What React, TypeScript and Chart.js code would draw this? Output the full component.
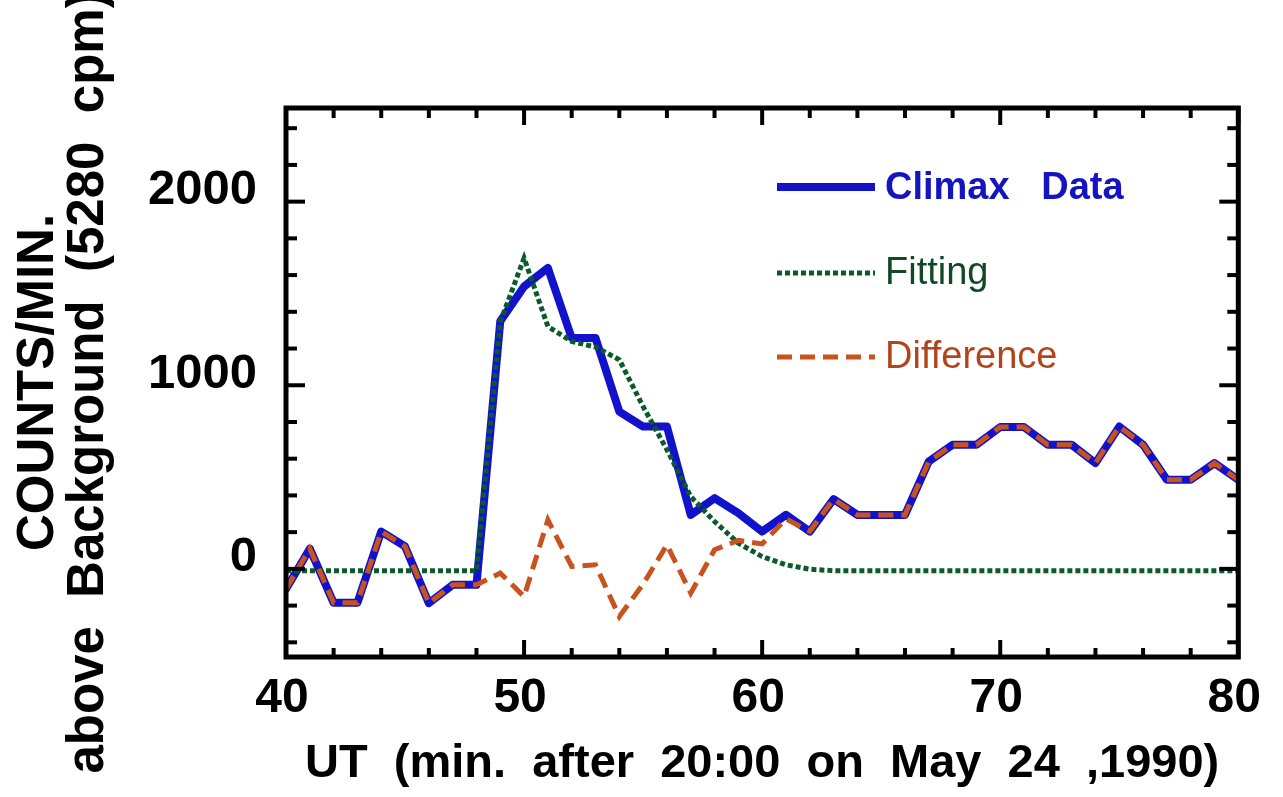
import React, { useEffect, useRef } from "react";
import { Chart, registerables } from "chart.js";

Chart.register(...registerables);

// ---- data ----
const minutes = [40, 41, 42, 43, 44, 45, 46, 47, 48, 49, 50, 51, 52, 53, 54, 55, 56, 57, 58, 59, 60,
  61, 62, 63, 64, 65, 66, 67, 68, 69, 70, 71, 72, 73, 74, 75, 76, 77, 78, 79, 80];

const climaxData = [-110, 110, -185, -185, 203, 122, -187, -87, -87, 1348, 1538, 1639, 1257, 1257, 857,
  775, 775, 294, 385, 304, 203, 294, 203, 380, 294, 294, 294, 585, 676, 676, 772, 772, 676, 676, 576,
  775, 676, 485, 485, 576, 485];

const fittingData = [-10, -10, -10, -10, -10, -10, -10, -10, -10, 1345, 1693, 1320, 1239, 1208, 1139,
  884, 649, 394, 258, 140, 67, 22, -2, -10, -10, -10, -10, -10, -10, -10, -10, -10, -10, -10, -10,
  -10, -10, -10, -10, -10, -10];

const differenceData = [-110, 110, -185, -185, 203, 122, -187, -87, -87, -23, -151, 267, 13, 22, -260,
  -83, 131, -132, 104, 155, 136, 272, 205, 380, 294, 294, 294, 585, 676, 676, 772, 772, 676, 676, 576,
  775, 676, 485, 485, 576, 485];

const seriesLabels = ["Climax   Data", "Fitting", "Difference"];

const xLabelTicks = [40, 50, 60, 70, 80];
const xMinorTicks = [42, 44, 46, 48, 52, 54, 56, 58, 62, 64, 66, 68, 72, 74, 76, 78];
const yLabelTicks = [0, 1000, 2000];
const yMinorTicks = [-400, -200, 200, 400, 600, 800, 1200, 1400, 1600, 1800, 2200, 2400];

const xTitle = "UT  (min.  after  20:00  on  May  24  ,1990)";
const yTitle = ["COUNTS/MIN.", "above  Background  (5280  cpm)"];

const FONT = '"Liberation Sans", Arial, Helvetica, sans-serif';

const framePlugin = {
  id: "frameTicks",
  afterDatasetsDraw(chart: any) {
    const { ctx, chartArea } = chart;
    const xs = chart.scales.x;
    const ys = chart.scales.y;
    const { left, right, top, bottom } = chartArea;
    ctx.save();
    ctx.strokeStyle = "#000";
    ctx.lineCap = "butt";
    ctx.lineWidth = 4;
    const seg = (x1: number, y1: number, x2: number, y2: number) => {
      ctx.beginPath();
      ctx.moveTo(x1, y1);
      ctx.lineTo(x2, y2);
      ctx.stroke();
    };
    yLabelTicks.forEach((v) => {
      const p = ys.getPixelForValue(v);
      seg(left, p, left + 19, p);
      seg(right, p, right - 19, p);
    });
    yMinorTicks.forEach((v) => {
      const p = ys.getPixelForValue(v);
      seg(left, p, left + 11, p);
      seg(right, p, right - 11, p);
    });
    xLabelTicks.forEach((v) => {
      const p = xs.getPixelForValue(v);
      seg(p, bottom, p, bottom - 17);
      seg(p, top, p, top + 17);
    });
    xMinorTicks.forEach((v) => {
      const p = xs.getPixelForValue(v);
      seg(p, bottom, p, bottom - 9);
      seg(p, top, p, top + 10);
    });
    ctx.lineWidth = 5;
    ctx.lineJoin = "miter";
    ctx.strokeRect(left, top, right - left, bottom - top);
    ctx.restore();
  },
};

const legendPlugin = {
  id: "insetLegend",
  afterDraw(chart: any) {
    const { ctx } = chart;
    const rows = [
      { y: 187, textY: 189, weight: "bold", color: "#1414c0" },
      { y: 273, textY: 274, weight: "normal", color: "#0f4a24" },
      { y: 357, textY: 358, weight: "normal", color: "#b3431a" },
    ];
    ctx.save();
    chart.data.datasets.forEach((ds: any, i: number) => {
      const r = rows[i];
      ctx.strokeStyle = ds.borderColor;
      ctx.lineWidth = ds.borderWidth;
      ctx.setLineDash(ds.borderDash || []);
      ctx.beginPath();
      ctx.moveTo(777, r.y);
      ctx.lineTo(875, r.y);
      ctx.stroke();
      ctx.setLineDash([]);
      ctx.fillStyle = r.color;
      ctx.font = `${r.weight} 38px ${FONT}`;
      ctx.textBaseline = "middle";
      ctx.textAlign = "left";
      ctx.fillText(ds.label, 885, r.textY);
    });
    ctx.restore();
  },
};

export default function App() {
  const ref = useRef<HTMLCanvasElement | null>(null);
  useEffect(() => {
    if (!ref.current) return;
    const toPts = (arr: number[]) => minutes.map((m, i) => ({ x: m, y: arr[i] }));
    const chart = new Chart(ref.current, {
      type: "line",
      data: {
        datasets: [
          {
            label: seriesLabels[0],
            data: toPts(climaxData),
            borderColor: "#1212cc",
            borderWidth: 8,
            pointRadius: 0,
            borderJoinStyle: "round",
            borderCapStyle: "round",
            order: 3,
          },
          {
            label: seriesLabels[1],
            data: toPts(fittingData),
            borderColor: "#0b5a2b",
            borderWidth: 5,
            borderDash: [5, 3],
            pointRadius: 0,
            order: 2,
          },
          {
            label: seriesLabels[2],
            data: toPts(differenceData),
            borderColor: "#c9531f",
            borderWidth: 5,
            borderDash: [15, 8],
            pointRadius: 0,
            order: 1,
          },
        ] as any,
      },
      options: {
        responsive: false,
        animation: false,
        events: [],
        layout: { padding: { top: 108, right: 40, bottom: 9, left: 0 } },
        plugins: { legend: { display: false }, tooltip: { enabled: false } },
        elements: { line: { tension: 0 }, point: { radius: 0 } },
        scales: {
          x: {
            type: "linear",
            min: 40,
            max: 80,
            grid: { display: false, drawTicks: false },
            border: { display: false },
            afterBuildTicks: (s: any) => {
              s.ticks = xLabelTicks.map((v) => ({ value: v }));
            },
            afterFit: (s: any) => {
              s.height = 131;
            },
            ticks: {
              autoSkip: false,
              maxRotation: 0,
              padding: 18,
              labelOffset: -4,
              color: "#000",
              font: { family: FONT, size: 48, weight: "bold", lineHeight: 1 },
              callback: (v: any) => String(v),
            },
            title: {
              display: true,
              text: xTitle,
              color: "#000",
              font: { family: FONT, size: 47, weight: "bold", lineHeight: 1 },
              padding: { top: 18, bottom: 0 },
            },
          },
          y: {
            type: "linear",
            min: -480,
            max: 2510,
            grid: { display: false, drawTicks: false },
            border: { display: false },
            afterBuildTicks: (s: any) => {
              s.ticks = yLabelTicks.map((v) => ({ value: v }));
            },
            afterFit: (s: any) => {
              s.width = 286;
            },
            ticks: {
              autoSkip: false,
              padding: 29,
              labelOffset: -11,
              color: "#000",
              font: { family: FONT, size: 49, weight: "bold", lineHeight: 1 },
              callback: (v: any) => String(v),
            },
            title: {
              display: true,
              text: yTitle,
              color: "#000",
              font: { family: FONT, size: 51, weight: "bold", lineHeight: 50 / 51 },
              padding: { top: 14, bottom: 0 },
            },
          },
        },
      } as any,
      plugins: [framePlugin, legendPlugin],
    });
    return () => chart.destroy();
  }, []);
  return (
    <div style={{ position: "absolute", left: 0, top: 0, width: 1283, height: 797, background: "#fff" }}>
      <canvas ref={ref} width={1283} height={797} />
    </div>
  );
}
